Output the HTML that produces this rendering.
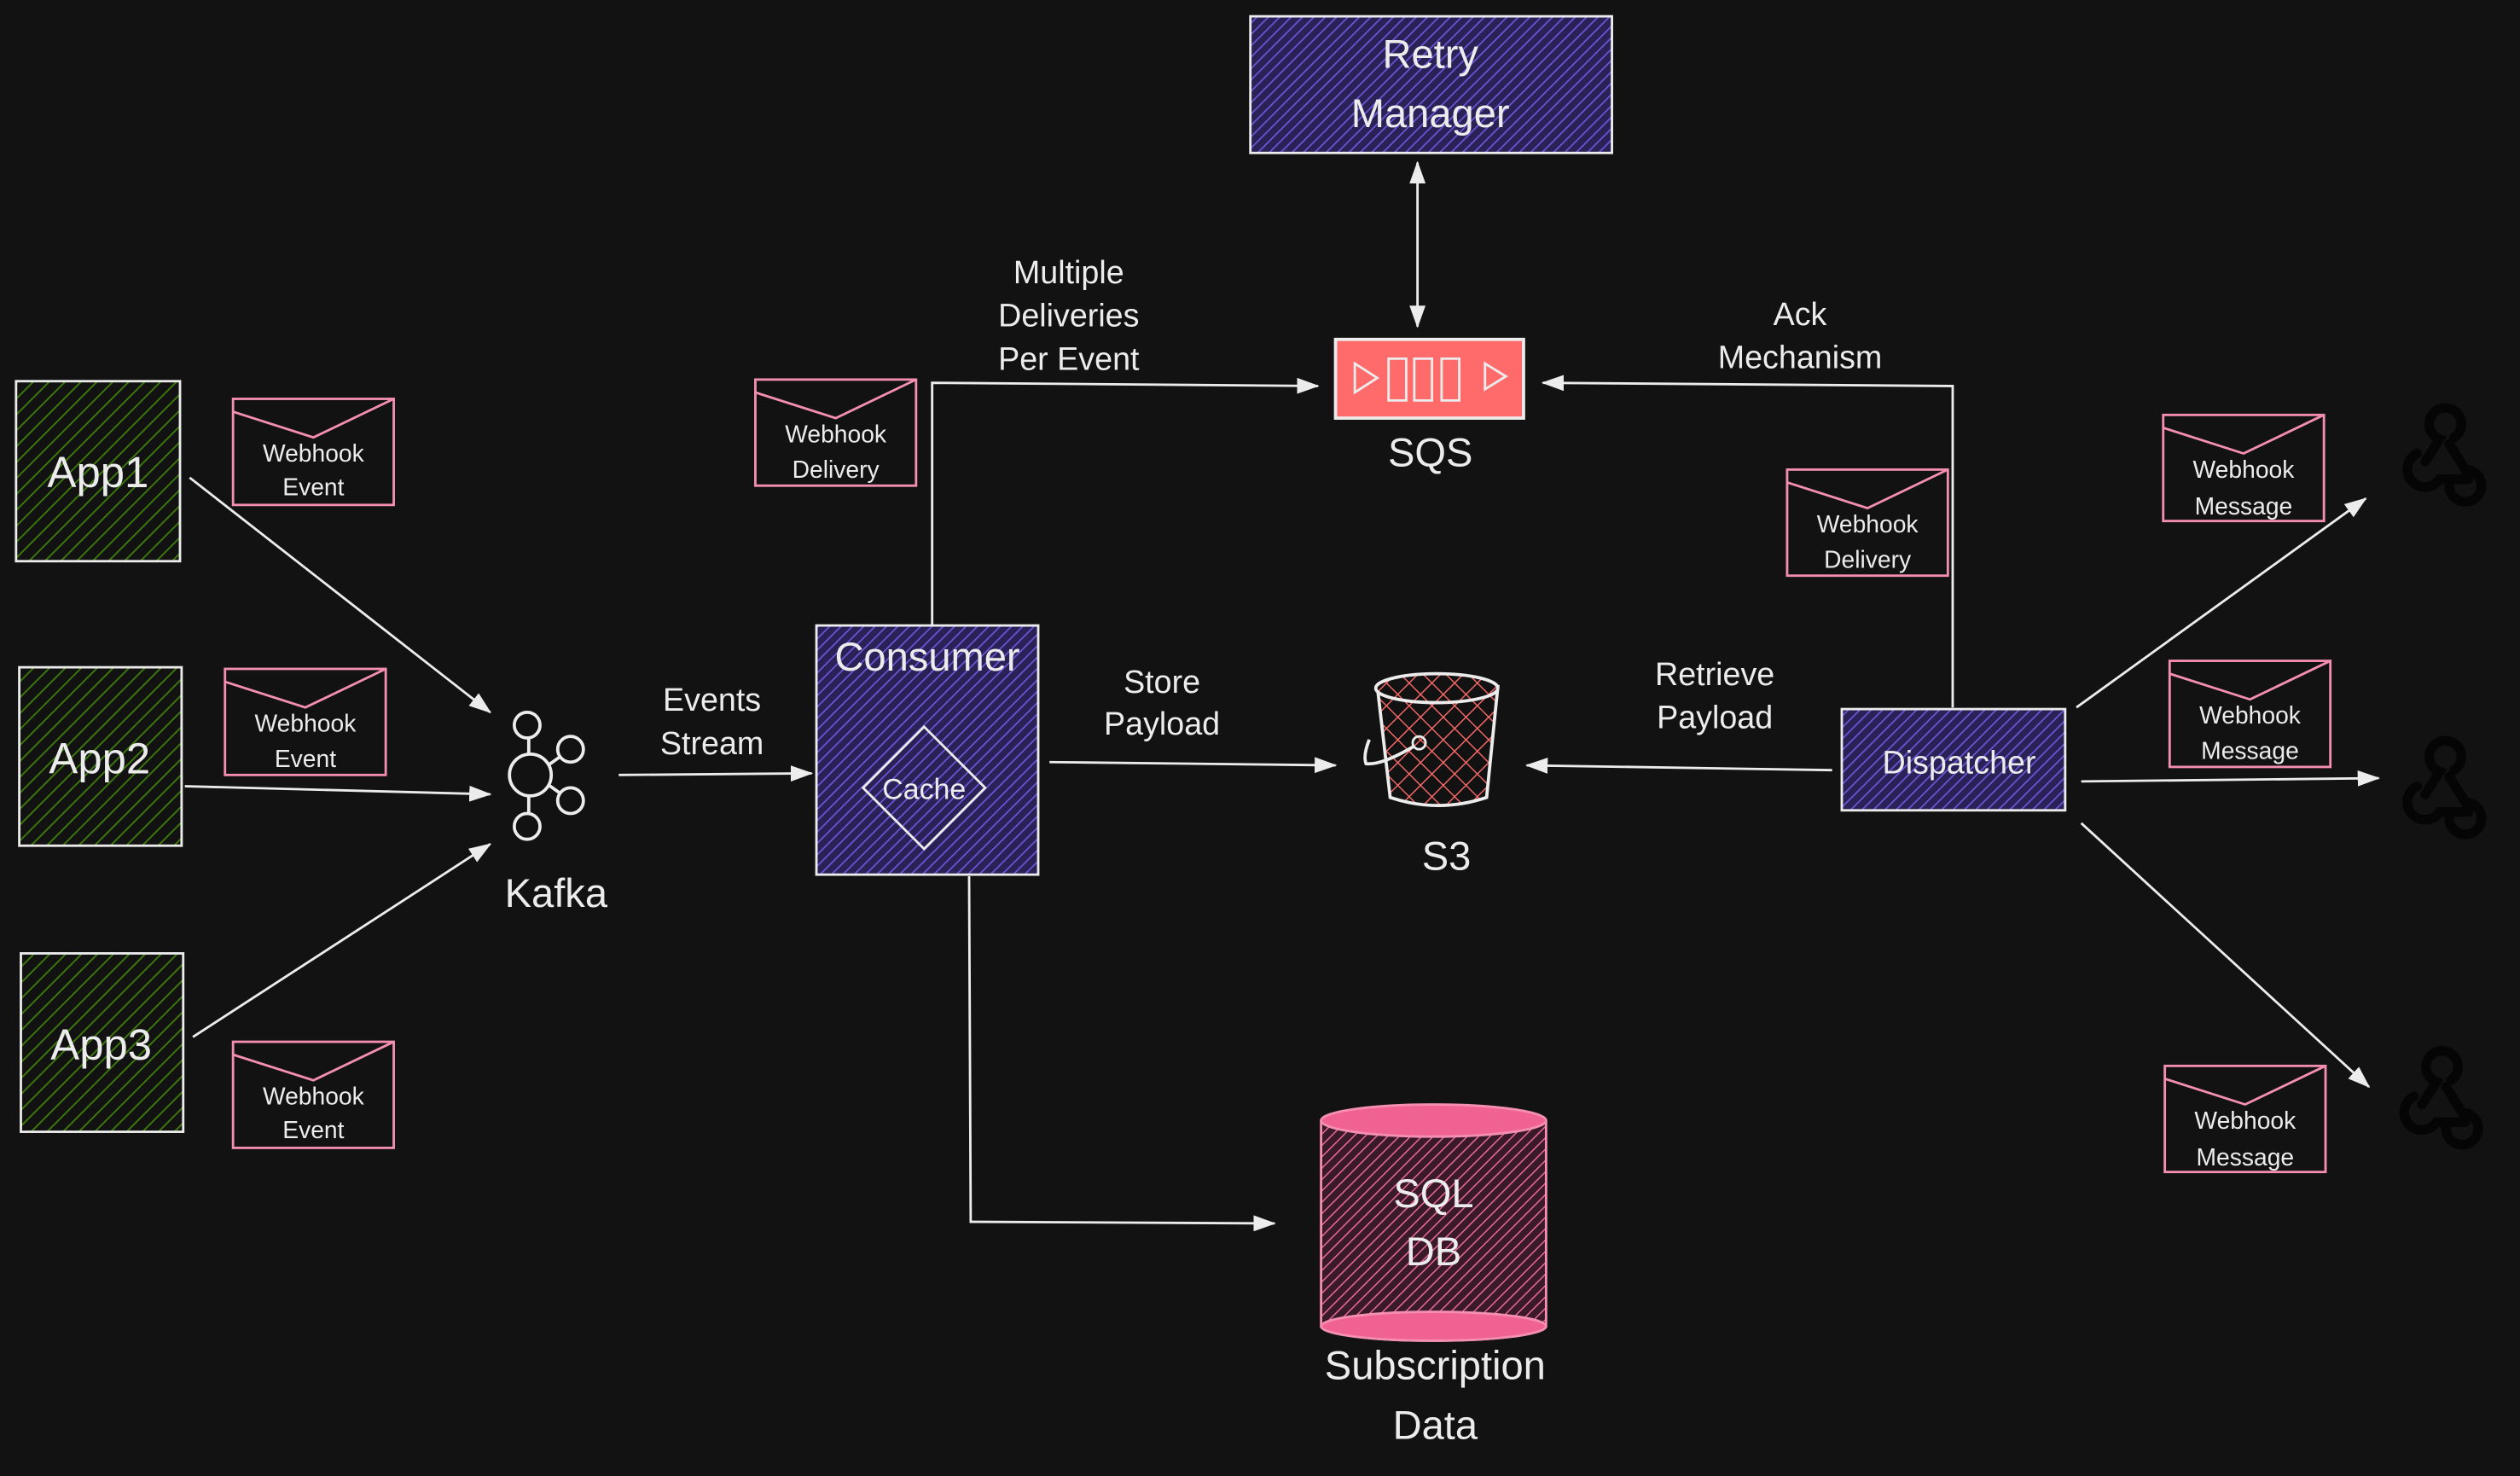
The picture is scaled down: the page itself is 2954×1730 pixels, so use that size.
<!DOCTYPE html>
<html><head><meta charset="utf-8"><style>
html,body{margin:0;padding:0;background:#121212;}
svg{display:block}
text{font-family:"Liberation Sans",sans-serif;fill:#ececec;text-anchor:middle}
</style></head><body>
<svg width="2954" height="1730" viewBox="0 0 1568 918" xmlns="http://www.w3.org/2000/svg">
<defs>
<pattern id="hg" width="7" height="7" patternUnits="userSpaceOnUse" patternTransform="rotate(45)"><rect width="7" height="7" fill="#121212"/><line x1="0" y1="0" x2="0" y2="7" stroke="#3d7a0a" stroke-width="2"/></pattern>
<pattern id="hp" width="5" height="5" patternUnits="userSpaceOnUse" patternTransform="rotate(45)"><rect width="5" height="5" fill="#2a2256"/><line x1="0" y1="0" x2="0" y2="5" stroke="#6f55d8" stroke-width="1.8"/></pattern>
<pattern id="hk" width="5" height="5" patternUnits="userSpaceOnUse" patternTransform="rotate(45)"><rect width="5" height="5" fill="#3a1a28"/><line x1="0" y1="0" x2="0" y2="5" stroke="#e86a98" stroke-width="1.6"/></pattern>
<pattern id="hr" width="10" height="10" patternUnits="userSpaceOnUse" patternTransform="rotate(45)"><rect width="10" height="10" fill="#121212"/><line x1="0" y1="0" x2="0" y2="10" stroke="#ff6b6b" stroke-width="1.5"/><line x1="0" y1="0" x2="10" y2="0" stroke="#ff6b6b" stroke-width="1.5"/></pattern>
<marker id="a" markerWidth="14" markerHeight="10" refX="13" refY="5" orient="auto" markerUnits="userSpaceOnUse"><path d="M0,0 L14,5 L0,10 Z" fill="#ececec"/></marker>
<marker id="as" markerWidth="14" markerHeight="10" refX="1" refY="5" orient="auto" markerUnits="userSpaceOnUse"><path d="M14,0 L0,5 L14,10 Z" fill="#ececec"/></marker>
<g id="env"><rect x="0" y="0" width="100" height="66" fill="#121212" stroke="#f48fb1" stroke-width="1.5"/><polyline points="0,8 50,24 100,0" fill="none" stroke="#f48fb1" stroke-width="1.5"/></g>
<g id="wh" fill="none" stroke="#050505" stroke-width="6" stroke-linecap="round">
<path d="M-7,3 L2,-11 A10,10 0 1 1 11,-12"/>
<path d="M-12,-2 A11,11 0 1 0 2,14 L20,14"/>
<path d="M8,-8 L18,8 A10,10 0 1 1 8,18"/>
</g>
</defs>
<g stroke="#ececec" stroke-width="1.5" fill="none">
<rect x="10" y="237" width="102" height="112" fill="url(#hg)"/>
<rect x="12" y="415" width="101" height="111" fill="url(#hg)"/>
<rect x="13" y="593" width="101" height="111" fill="url(#hg)"/>
<rect x="508" y="389" width="138" height="155" fill="url(#hp)"/>
<polygon points="575,452 613,490 575,528 537,490" fill="url(#hp)"/>
<rect x="778" y="10" width="225" height="85" fill="url(#hp)"/>
<rect x="1146" y="441" width="139" height="63" fill="url(#hp)"/>
<rect x="831" y="211" width="117" height="49" fill="#ff6b6b" stroke-width="2"/>
<path d="M843,226 L857,235 L843,244 Z M864,223 h11 v26 h-11 Z M880,223 h11 v26 h-11 Z M897,223 h11 v26 h-11 Z M924,226 L937,234 L924,242 Z" stroke-width="1.5"/>
<path d="M857,427 L865,496 Q895,506 925,496 L932,427 Z" fill="url(#hr)" stroke-width="2"/>
<ellipse cx="894" cy="428" rx="38" ry="9" fill="url(#hr)" stroke-width="2"/>
<path d="M880,464 Q860,476 850,475 Q848,470 852,460" stroke-width="2"/>
<circle cx="883" cy="462" r="4"/>
<path d="M822,697 L822,825 A70,9 0 0 0 962,825 L962,697" fill="url(#hk)" stroke="#f48fb1"/>
<ellipse cx="892" cy="697" rx="70" ry="10" fill="#f06292" stroke="#f48fb1"/>
<ellipse cx="892" cy="825" rx="70" ry="9" fill="#f06292" stroke="#f48fb1"/>
<g stroke-width="2">
<circle cx="330" cy="482" r="13"/><circle cx="328" cy="451" r="8"/><circle cx="328" cy="514" r="8"/><circle cx="355" cy="466" r="8"/><circle cx="355" cy="498" r="8"/>
<line x1="329" y1="459" x2="329" y2="469"/><line x1="329" y1="495" x2="329" y2="506"/><line x1="341" y1="476" x2="348" y2="471"/><line x1="341" y1="488" x2="348" y2="493"/>
</g>
<line x1="118" y1="297" x2="305" y2="443" marker-end="url(#a)"/>
<line x1="115" y1="489" x2="305" y2="494" marker-end="url(#a)"/>
<line x1="120" y1="645" x2="305" y2="525" marker-end="url(#a)"/>
<line x1="385" y1="482" x2="505" y2="481" marker-end="url(#a)"/>
<polyline points="580,389 580,238 820,240" marker-end="url(#a)"/>
<line x1="882" y1="101" x2="882" y2="203" marker-start="url(#as)" marker-end="url(#a)"/>
<polyline points="1215,440 1215,240 960,238" marker-end="url(#a)"/>
<line x1="653" y1="474" x2="831" y2="476" marker-end="url(#a)"/>
<line x1="1140" y1="479" x2="950" y2="476" marker-end="url(#a)"/>
<polyline points="603,545 604,760 793,761" marker-end="url(#a)"/>
<line x1="1292" y1="440" x2="1472" y2="310" marker-end="url(#a)"/>
<line x1="1295" y1="486" x2="1480" y2="484" marker-end="url(#a)"/>
<line x1="1295" y1="512" x2="1474" y2="676" marker-end="url(#a)"/>
</g>
<use href="#env" x="145" y="248"/><use href="#env" x="140" y="416"/><use href="#env" x="145" y="648"/>
<use href="#env" x="470" y="236"/><use href="#env" x="1112" y="292"/>
<use href="#env" x="1346" y="258"/><use href="#env" x="1350" y="411"/><use href="#env" x="1347" y="663"/>
<use href="#wh" x="1516" y="284"/><use href="#wh" x="1516" y="491"/><use href="#wh" x="1514" y="684"/>
<g font-size="27"><text x="61" y="303">App1</text><text x="62" y="481">App2</text><text x="63" y="659">App3</text></g>
<g font-size="15">
<text x="195" y="287">Webhook</text><text x="195" y="308">Event</text>
<text x="190" y="455">Webhook</text><text x="190" y="477">Event</text>
<text x="195" y="687">Webhook</text><text x="195" y="708">Event</text>
<text x="520" y="275">Webhook</text><text x="520" y="297">Delivery</text>
<text x="1162" y="331">Webhook</text><text x="1162" y="353">Delivery</text>
<text x="1396" y="297">Webhook</text><text x="1396" y="320">Message</text>
<text x="1400" y="450">Webhook</text><text x="1400" y="472">Message</text>
<text x="1397" y="702">Webhook</text><text x="1397" y="725">Message</text>
</g>
<g font-size="20">
<text x="443" y="442">Events</text><text x="443" y="469">Stream</text>
<text x="665" y="176">Multiple</text><text x="665" y="203">Deliveries</text><text x="665" y="230">Per Event</text>
<text x="723" y="431">Store</text><text x="723" y="457">Payload</text>
<text x="1067" y="426">Retrieve</text><text x="1067" y="453">Payload</text>
<text x="1120" y="202">Ack</text><text x="1120" y="229">Mechanism</text>
<text x="575" y="497" font-size="18">Cache</text>
<text x="1219" y="481">Dispatcher</text>
</g>
<g font-size="25">
<text x="346" y="564">Kafka</text>
<text x="577" y="417">Consumer</text>
<text x="890" y="42">Retry</text><text x="890" y="79">Manager</text>
<text x="890" y="290">SQS</text>
<text x="900" y="541">S3</text>
<text x="892" y="751">SQL</text><text x="892" y="787">DB</text>
<text x="893" y="858">Subscription</text><text x="893" y="895">Data</text>
</g>
</svg>
</body></html>
